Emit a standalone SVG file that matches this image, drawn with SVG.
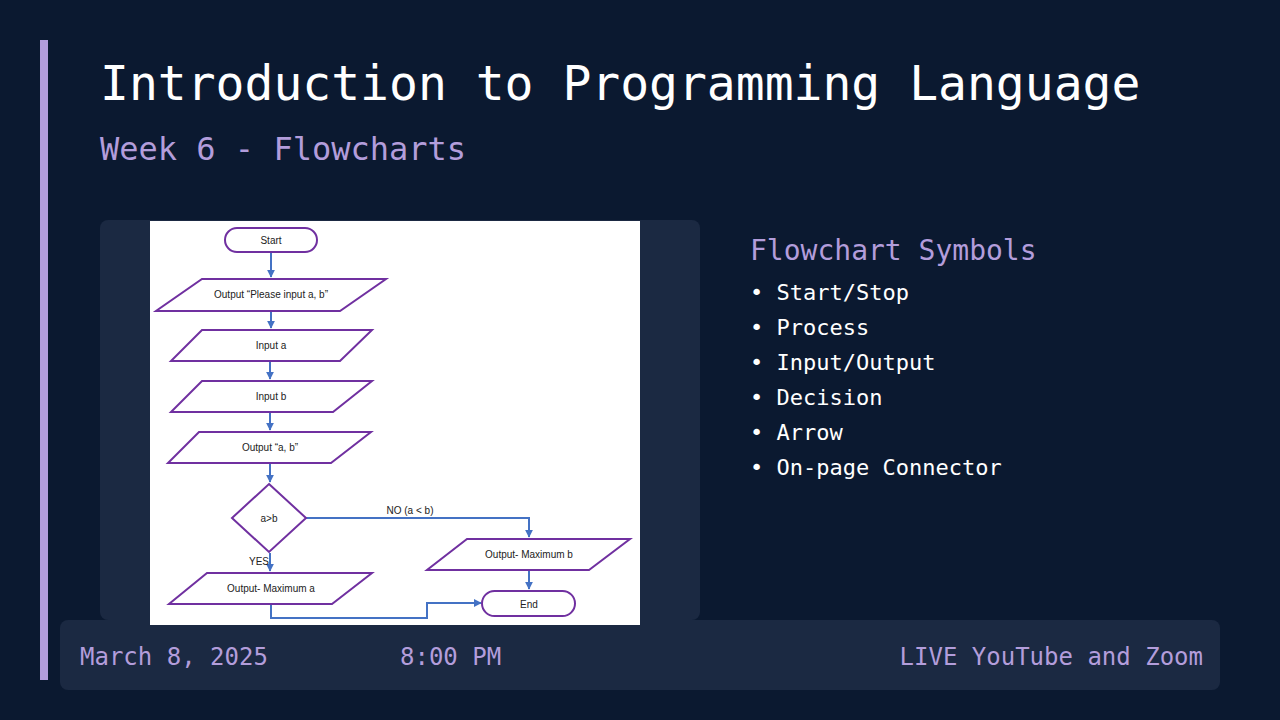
<svg xmlns="http://www.w3.org/2000/svg" width="1280" height="720" viewBox="0 0 1280 720">
<defs>
<style>
.m{font-family:"DejaVu Sans Mono",monospace}
.fc{fill:#fff;stroke:#7030a0;stroke-width:2}
.ft{font-family:"Liberation Sans",Arial,sans-serif;font-size:10px;fill:#222;text-anchor:middle}
.cn{fill:none;stroke:#4472c4;stroke-width:2}
</style>
<marker id="a" viewBox="0 0 10 10" refX="9" refY="5" markerWidth="4" markerHeight="4" orient="auto"><path d="M0,0L10,5L0,10z" fill="#4472c4"/></marker>
</defs>
<rect width="1280" height="720" fill="#0b1930"/>
<rect x="40" y="40" width="8" height="640" fill="#b39ddb"/>
<text class="m" x="100" y="100" font-size="48" fill="#fff">Introduction to Programming Language</text>
<text class="m" x="100" y="160" font-size="32" fill="#b39ddb">Week 6 - Flowcharts</text>
<rect x="100" y="220" width="600" height="400" rx="8" fill="#1b2942"/>
<g id="footer">
<rect x="60" y="620" width="1160" height="70" rx="8" fill="#1b2942"/>
<text class="m" x="80" y="665" font-size="24" fill="#b39ddb">March 8, 2025</text>
<text class="m" x="400" y="665" font-size="24" fill="#b39ddb">8:00 PM</text>
<text class="m" x="1203" y="665" font-size="24" fill="#b39ddb" text-anchor="end">LIVE YouTube and Zoom</text>
</g>
<rect x="150" y="221" width="490" height="404" fill="#fff"/>
<g id="connectors">
<path class="cn" d="M271,252V277" marker-end="url(#a)"/>
<path class="cn" d="M271,311V328" marker-end="url(#a)"/>
<path class="cn" d="M270,362V379" marker-end="url(#a)"/>
<path class="cn" d="M270,413V430" marker-end="url(#a)"/>
<path class="cn" d="M270,464V482" marker-end="url(#a)"/>
<path class="cn" d="M306,518H529V537" marker-end="url(#a)"/>
<path class="cn" d="M270,553V571" marker-end="url(#a)"/>
<path class="cn" d="M529,570V589" marker-end="url(#a)"/>
<path class="cn" d="M271,605V618H427V603H481" marker-end="url(#a)"/>
</g>
<g id="start"><rect class="fc" x="225" y="228" width="92" height="24" rx="12"/><text class="ft" x="271" y="244" font-size="11">Start</text></g>
<g id="out1"><path class="fc" d="M202,279H386L340,311H156z"/><text class="ft" x="271" y="298" font-size="9">Output “Please input a, b”</text></g>
<g id="ina"><path class="fc" d="M202,330H372L340,361H171z"/><text class="ft" x="271" y="349" font-size="9">Input a</text></g>
<g id="inb"><path class="fc" d="M202,381H372L333,412H171z"/><text class="ft" x="271" y="400" font-size="9">Input b</text></g>
<g id="out2"><path class="fc" d="M199,432H371L331,463H168z"/><text class="ft" x="270" y="451" font-size="9">Output “a, b”</text></g>
<g id="dec"><path class="fc" d="M269,484L306,518L269,552L232,518z"/><text class="ft" x="269" y="522">a&gt;b</text></g>
<text class="ft" x="410" y="514" font-size="11" style="text-anchor:middle">NO (a &lt; b)</text>
<text class="ft" x="259" y="565" font-size="11">YES</text>
<g id="outb"><path class="fc" d="M467,539H630L589,570H427z"/><text class="ft" x="529" y="558" font-size="9">Output- Maximum b</text></g>
<g id="outa"><path class="fc" d="M207,573H372L332,604H169z"/><text class="ft" x="271" y="592" font-size="9">Output- Maximum a</text></g>
<g id="end"><rect class="fc" x="482" y="591" width="93" height="25" rx="12.5"/><text class="ft" x="529" y="608" font-size="11">End</text></g>
<text class="m" x="750" y="260" font-size="28" fill="#b39ddb">Flowchart Symbols</text>
<g class="m" font-size="22" fill="#fff">
<text x="750" y="300">• Start/Stop</text>
<text x="750" y="335">• Process</text>
<text x="750" y="370">• Input/Output</text>
<text x="750" y="405">• Decision</text>
<text x="750" y="440">• Arrow</text>
<text x="750" y="475">• On-page Connector</text>
</g>
</svg>
